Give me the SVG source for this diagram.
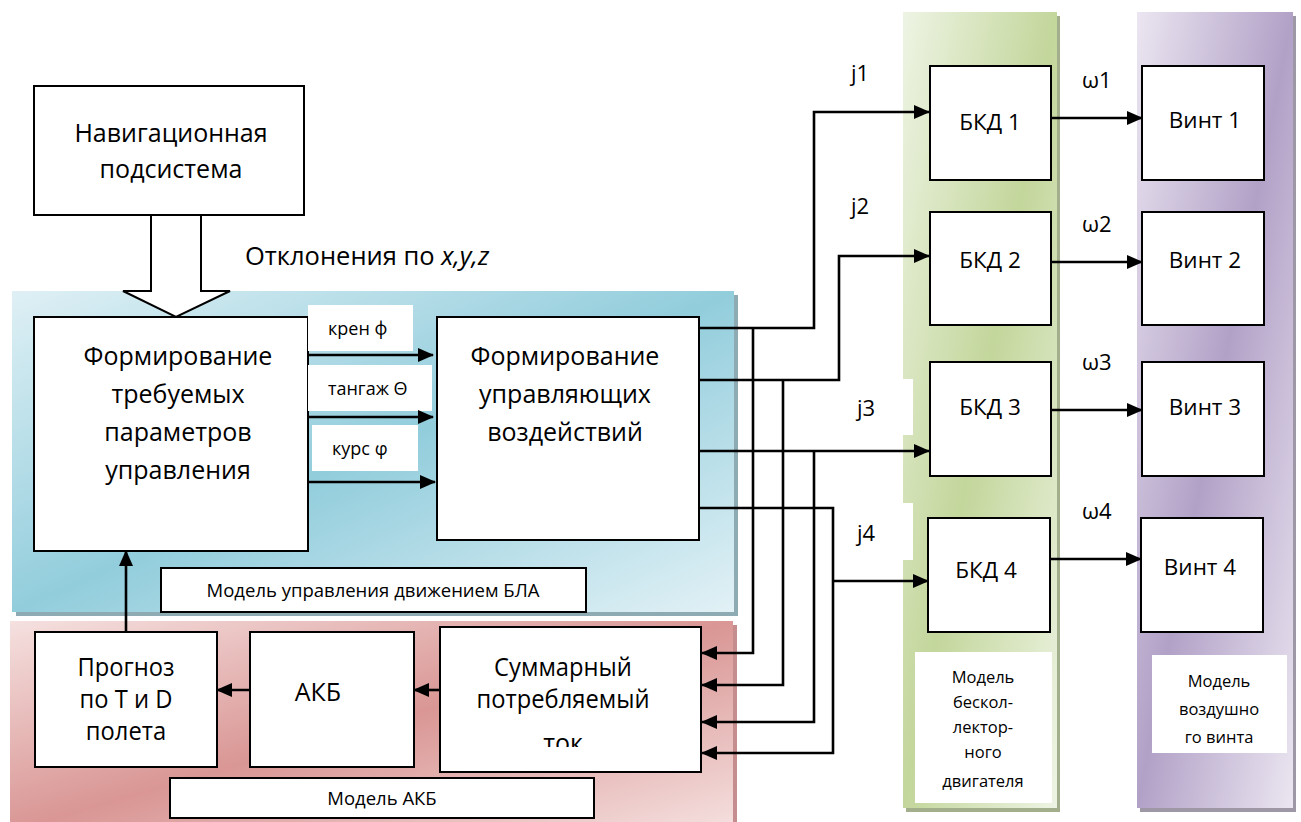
<svg xmlns="http://www.w3.org/2000/svg" width="1301" height="822" viewBox="0 0 1301 822">
<style>
.box{fill:#fff;stroke:#000;stroke-width:2}
.lbl{fill:#fff;stroke:none}
text{font-family:"Open Sans","Noto Sans","Liberation Sans",sans-serif;fill:#000}
.big{font-size:25px;text-anchor:middle}
.mid{font-size:22px}
.midc{font-size:22.5px;text-anchor:middle}
.sm{font-size:18px}
.smc{font-size:16.5px;text-anchor:middle}
.mdl{font-size:18.5px;text-anchor:middle}
.conn path{fill:none;stroke:#000;stroke-width:2.6}
.conn .a{marker-end:url(#arr)}
</style>
<defs>
<marker id="arr" viewBox="0 0 16 14" refX="15" refY="7" markerWidth="16" markerHeight="14" markerUnits="userSpaceOnUse" orient="auto">
<path d="M0,0 L16,7 L0,14 z" fill="#000"/>
</marker>
<linearGradient id="gBlue" x1="0" y1="0" x2="1" y2="1">
<stop offset="0" stop-color="#dff0f5"/><stop offset="0.5" stop-color="#92cddc"/><stop offset="1" stop-color="#e2f1f6"/>
</linearGradient>
<linearGradient id="gRed" x1="0" y1="0" x2="1" y2="1">
<stop offset="0" stop-color="#f5e1e0"/><stop offset="0.5" stop-color="#d99694"/><stop offset="1" stop-color="#f5e1e0"/>
</linearGradient>
<linearGradient id="gGreen" x1="0" y1="0" x2="1" y2="1">
<stop offset="0" stop-color="#eef4e4"/><stop offset="0.5" stop-color="#c3d69b"/><stop offset="1" stop-color="#eef4e4"/>
</linearGradient>
<linearGradient id="gPurple" x1="0" y1="0" x2="1" y2="1">
<stop offset="0" stop-color="#ebe6f1"/><stop offset="0.5" stop-color="#b2a1c7"/><stop offset="1" stop-color="#ebe6f1"/>
</linearGradient>
<clipPath id="clipTok"><rect x="440" y="600" width="262" height="147"/></clipPath>
</defs>

<g id="region-blue">
<rect x="16" y="295" width="722" height="321" fill="#8eaab2"/>
<rect x="12" y="291" width="722" height="321" fill="url(#gBlue)"/>
</g>
<g id="region-red">
<rect x="14" y="625" width="723" height="210" fill="#c58d8d"/>
<rect x="10" y="621" width="723" height="210" fill="url(#gRed)"/>
</g>
<g id="region-green">
<rect x="906" y="16" width="154" height="796" fill="#a3ae8c"/>
<rect x="903" y="12" width="154" height="796" fill="url(#gGreen)"/>
</g>
<g id="region-purple">
<rect x="1140" y="16" width="156" height="796" fill="#9d97a6"/>
<rect x="1137" y="12" width="156" height="796" fill="url(#gPurple)"/>
</g>

<g id="nav">
<rect class="box" x="34" y="86" width="270" height="129"/>
<text class="big" x="171" y="142">Навигационная</text>
<text class="big" x="171" y="178">подсистема</text>
</g>
<g id="deviation-arrow">
<polygon points="151,215 201,215 201,291 230,291 176,317 123,291 151,291" fill="#fff" stroke="#000" stroke-width="2"/>
<text x="245" y="265" style="font-size:25.5px">Отклонения по <tspan font-style="italic">x,y,z</tspan></text>
</g>

<g id="form-params">
<rect class="box" x="34" y="317" width="274" height="234"/>
<text class="big" x="178" y="365">Формирование</text>
<text class="big" x="178" y="403">требуемых</text>
<text class="big" x="178" y="441">параметров</text>
<text class="big" x="178" y="479">управления</text>
</g>
<g id="label-kren">
<rect class="lbl" x="308" y="305" width="105" height="46"/>
<text class="sm" x="328" y="335">крен ф</text>
</g>
<g id="label-tangazh">
<rect class="lbl" x="308" y="365" width="124" height="46"/>
<text class="sm" x="328" y="395">тангаж Θ</text>
</g>
<g id="label-kurs">
<rect class="lbl" x="312" y="425" width="106" height="46"/>
<text class="sm" x="332" y="455">курс φ</text>
</g>
<g id="form-control">
<rect class="box" x="437" y="317" width="262" height="223"/>
<text class="big" x="565" y="365">Формирование</text>
<text class="big" x="565" y="403">управляющих</text>
<text class="big" x="565" y="441">воздействий</text>
</g>
<g id="label-model-bla">
<rect class="box" x="161" y="568" width="425" height="44"/>
<text class="mdl" x="373" y="597">Модель управления движением БЛА</text>
</g>

<g id="prognoz">
<rect class="box" x="35" y="632" width="182" height="135"/>
<text class="big" x="126" y="676" transform="translate(126 0) scale(0.95 1) translate(-126 0)">Прогноз</text>
<text class="big" x="126" y="708" transform="translate(126 0) scale(0.95 1) translate(-126 0)">по T и D</text>
<text class="big" x="126" y="740" transform="translate(126 0) scale(0.95 1) translate(-126 0)">полета</text>
</g>
<g id="akb">
<rect class="box" x="250" y="632" width="164" height="135"/>
<text class="big" x="318" y="701">АКБ</text>
</g>
<g id="current">
<rect class="box" x="440" y="627" width="261" height="145"/>
<g transform="translate(563 0) scale(0.95 1) translate(-563 0)">
<text class="big" x="563" y="676">Суммарный</text>
<text class="big" x="563" y="708">потребляемый</text>
</g>
<text class="big" x="563" y="752" clip-path="url(#clipTok)">ток</text>
</g>
<g id="label-model-akb">
<rect class="box" x="170" y="778" width="424" height="40"/>
<text class="mdl" x="382" y="805">Модель АКБ</text>
</g>

<g id="label-j">
<rect class="lbl" x="842" y="379" width="71" height="56"/>
<rect class="lbl" x="842" y="503" width="71" height="57"/>
<text class="mid" x="851" y="81">j1</text>
<text class="mid" x="851" y="214">j2</text>
<text class="mid" x="857" y="416">j3</text>
<text class="mid" x="857" y="541">j4</text>
</g>

<g id="bkd1"><rect class="box" x="930" y="66" width="121" height="114"/><text class="midc" x="990" y="130">БКД 1</text></g>
<g id="bkd2"><rect class="box" x="930" y="212" width="121" height="113"/><text class="midc" x="990" y="268">БКД 2</text></g>
<g id="bkd3"><rect class="box" x="930" y="362" width="121" height="114"/><text class="midc" x="990" y="415">БКД 3</text></g>
<g id="bkd4"><rect class="box" x="928" y="518" width="122" height="114"/><text class="midc" x="986" y="578">БКД 4</text></g>
<g id="label-motor">
<rect class="lbl" x="915" y="652" width="137" height="151"/>
<text class="smc" x="983" y="683">Модель</text>
<text class="smc" x="983" y="708">бескол-</text>
<text class="smc" x="983" y="733">лектор-</text>
<text class="smc" x="983" y="758">ного</text>
<text class="smc" x="983" y="787">двигателя</text>
</g>

<g id="vint1"><rect class="box" x="1142" y="66" width="122" height="114"/><text class="midc" x="1205" y="128">Винт 1</text></g>
<g id="vint2"><rect class="box" x="1142" y="212" width="122" height="113"/><text class="midc" x="1205" y="268">Винт 2</text></g>
<g id="vint3"><rect class="box" x="1142" y="362" width="122" height="114"/><text class="midc" x="1205" y="415">Винт 3</text></g>
<g id="vint4"><rect class="box" x="1141" y="518" width="122" height="114"/><text class="midc" x="1200" y="575">Винт 4</text></g>
<g id="label-prop">
<rect class="lbl" x="1152" y="655" width="135" height="98"/>
<text class="smc" x="1219" y="687">Модель</text>
<text class="smc" x="1219" y="715">воздушно</text>
<text class="smc" x="1219" y="743">го винта</text>
</g>
<g id="label-omega">
<text class="mid" x="1082" y="88">ω1</text>
<text class="mid" x="1082" y="232">ω2</text>
<text class="mid" x="1082" y="370">ω3</text>
<text class="mid" x="1082" y="519">ω4</text>
</g>

<g id="connectors" class="conn">
<path class="a" d="M308,355 H433"/>
<path class="a" d="M308,417 H433"/>
<path class="a" d="M308,482 H435"/>
<path class="a" d="M699,328 H814 V112 H929"/>
<path class="a" d="M699,380 H839 V256 H929"/>
<path class="a" d="M699,451 H929"/>
<path class="a" d="M699,508 H833 V753 H702"/>
<path class="a" d="M833,581 H928"/>
<path class="a" d="M753,328 V653 H702"/>
<path class="a" d="M783,380 V685 H702"/>
<path class="a" d="M814,451 V722 H702"/>
<path class="a" d="M440,690 H414"/>
<path class="a" d="M250,690 H217"/>
<path class="a" d="M126,632 V551"/>
<path class="a" d="M1051,118 H1142"/>
<path class="a" d="M1051,262 H1142"/>
<path class="a" d="M1051,410 H1142"/>
<path class="a" d="M1050,559 H1141"/>
</g>
</svg>
